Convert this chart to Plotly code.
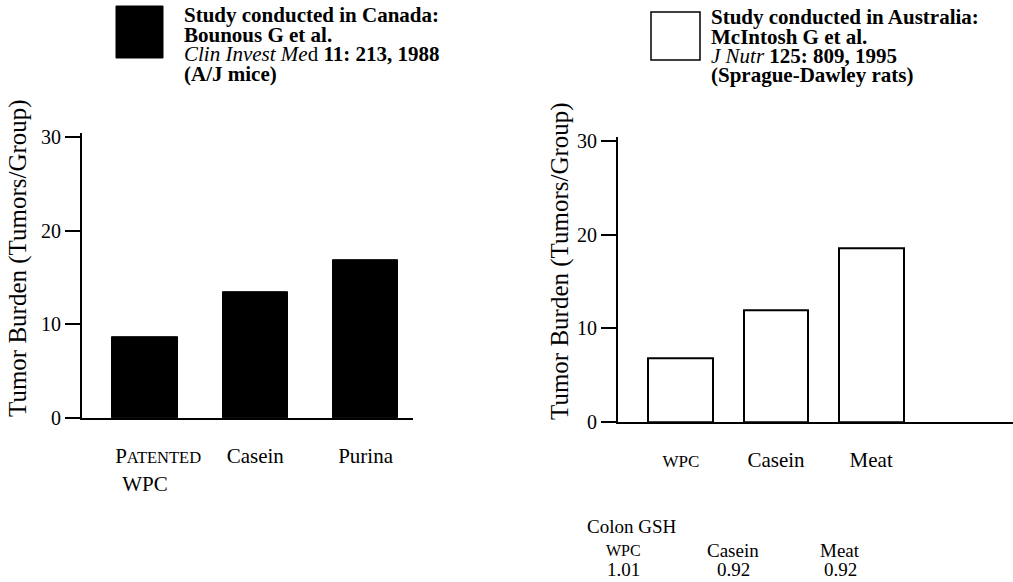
import plotly.graph_objects as go

W, H = 1013, 582

# ---- data ----
canada_categories = ["PATENTED WPC", "Casein", "Purina"]
canada_tick_text = ["&nbsp;&nbsp;&nbsp;&nbsp;&nbsp;P<span style='font-size:16.5px'>ATENTED</span><br>WPC",
                    "Casein", "Purina"]
canada_values = [8.6, 13.4, 16.8]

australia_categories = ["WPC", "Casein", "Meat"]
australia_tick_text = ["<span style='font-size:17px'>WPC</span>", "Casein", "Meat"]
australia_values = [6.8, 11.9, 18.6]

y_ticks = [0, 10, 20, 30]
y_title = "Tumor Burden (Tumors/Group)"

canada_header = [
    "<b>Study conducted in Canada:</b>",
    "<b>Bounous G et al.</b>",
    "<i>Clin Invest Me</i>d <b>11: 213, 1988</b>",
    "<b>(A/J mice)</b>",
]
australia_header = [
    "<b>Study conducted in Australia:</b>",
    "<b>McIntosh G et al.</b>",
    "<i>J Nutr</i> <b>125: 809, 1995</b>",
    "<b>(Sprague-Dawley rats)</b>",
]

gsh_title = "Colon GSH"
gsh_labels = ["<span style='font-size:16px'>WPC</span>", "Casein", "Meat"]
gsh_values = [1.01, 0.92, 0.92]


def px(x):
    return x / W


def py(y):
    return 1 - y / H


FONT = "Liberation Serif"

fig = go.Figure()
fig.add_trace(go.Bar(
    x=canada_categories, y=canada_values, xaxis="x", yaxis="y",
    width=0.59, marker=dict(color="black", line=dict(color="black", width=1)),
    showlegend=False, hoverinfo="skip",
))
fig.add_trace(go.Bar(
    x=australia_categories, y=australia_values, xaxis="x2", yaxis="y2",
    width=0.68, marker=dict(color="white", line=dict(color="black", width=2)),
    showlegend=False, hoverinfo="skip",
))

xcommon = dict(showline=True, linecolor="black", linewidth=2, showgrid=False,
               zeroline=False, ticks="", ticklabelstandoff=18, automargin=False,
               tickfont=dict(family=FONT, size=21, color="black"))
ycommon = dict(showline=True, linecolor="black", linewidth=2, showgrid=False,
               zeroline=False, ticks="outside", ticklen=15, tickwidth=1.5,
               tickcolor="black", tickvals=y_ticks, range=[0, 30.4], automargin=False,
               tickfont=dict(family=FONT, size=20, color="black"))

fig.update_layout(
    template="none",
    width=W, height=H, autosize=False,
    margin=dict(l=0, r=0, t=0, b=0, pad=0),
    paper_bgcolor="white", plot_bgcolor="white",
    font=dict(family=FONT, color="black"),
    xaxis=dict(domain=[px(82), px(413)], anchor="y", range=[-0.571, 2.43],
               tickvals=canada_categories, ticktext=canada_tick_text, **xcommon),
    yaxis=dict(domain=[py(418), py(133.2)], anchor="x", **ycommon),
    xaxis2=dict(domain=[px(618), 1.0], anchor="y2", range=[-0.66, 3.49],
                tickvals=australia_categories, ticktext=australia_tick_text, **xcommon),
    yaxis2=dict(domain=[py(422), py(137.2)], anchor="x2", **ycommon),
    bargap=0,
)

ann = []
# y-axis titles
ann.append(dict(x=px(18), y=py(258), xref="paper", yref="paper", text=y_title,
                textangle=-90, showarrow=False, xanchor="center", yanchor="middle",
                font=dict(family=FONT, size=25, color="black")))
ann.append(dict(x=px(560), y=py(261), xref="paper", yref="paper", text=y_title,
                textangle=-90, showarrow=False, xanchor="center", yanchor="middle",
                font=dict(family=FONT, size=25, color="black")))

# headers
for i, t in enumerate(canada_header):
    ann.append(dict(x=px(182), y=py(15 + 19.5 * i), xref="paper", yref="paper", text=t,
                    showarrow=False, xanchor="left", yanchor="middle",
                    font=dict(family=FONT, size=21, color="black")))
for i, t in enumerate(australia_header):
    ann.append(dict(x=px(709), y=py(17 + 19.5 * i), xref="paper", yref="paper", text=t,
                    showarrow=False, xanchor="left", yanchor="middle",
                    font=dict(family=FONT, size=21, color="black")))

# Colon GSH table
ann.append(dict(x=px(585), y=py(526), xref="paper", yref="paper", text=gsh_title,
                showarrow=False, xanchor="left", yanchor="middle",
                font=dict(family=FONT, size=19, color="black")))
gsh_x = [623, 733, 840]
for xc, lab, val in zip(gsh_x, gsh_labels, gsh_values):
    ann.append(dict(x=px(xc), y=py(550), xref="paper", yref="paper", text=lab,
                    showarrow=False, xanchor="center", yanchor="middle",
                    font=dict(family=FONT, size=19, color="black")))
    ann.append(dict(x=px(xc), y=py(569), xref="paper", yref="paper", text=f"{val:.2f}",
                    showarrow=False, xanchor="center", yanchor="middle",
                    font=dict(family=FONT, size=19, color="black")))

fig.update_layout(annotations=ann)

# legend keys
fig.add_shape(type="rect", xref="paper", yref="paper",
              x0=px(116), x1=px(163), y0=py(58), y1=py(6),
              fillcolor="black", line=dict(color="black", width=1))
fig.add_shape(type="rect", xref="paper", yref="paper",
              x0=px(651), x1=px(700), y0=py(60), y1=py(12),
              fillcolor="white", line=dict(color="black", width=1.5))

fig.write_html("out.html", config={"displayModeBar": False, "responsive": False},
               post_script="document.body.style.margin='0';document.body.style.overflow='hidden';")
